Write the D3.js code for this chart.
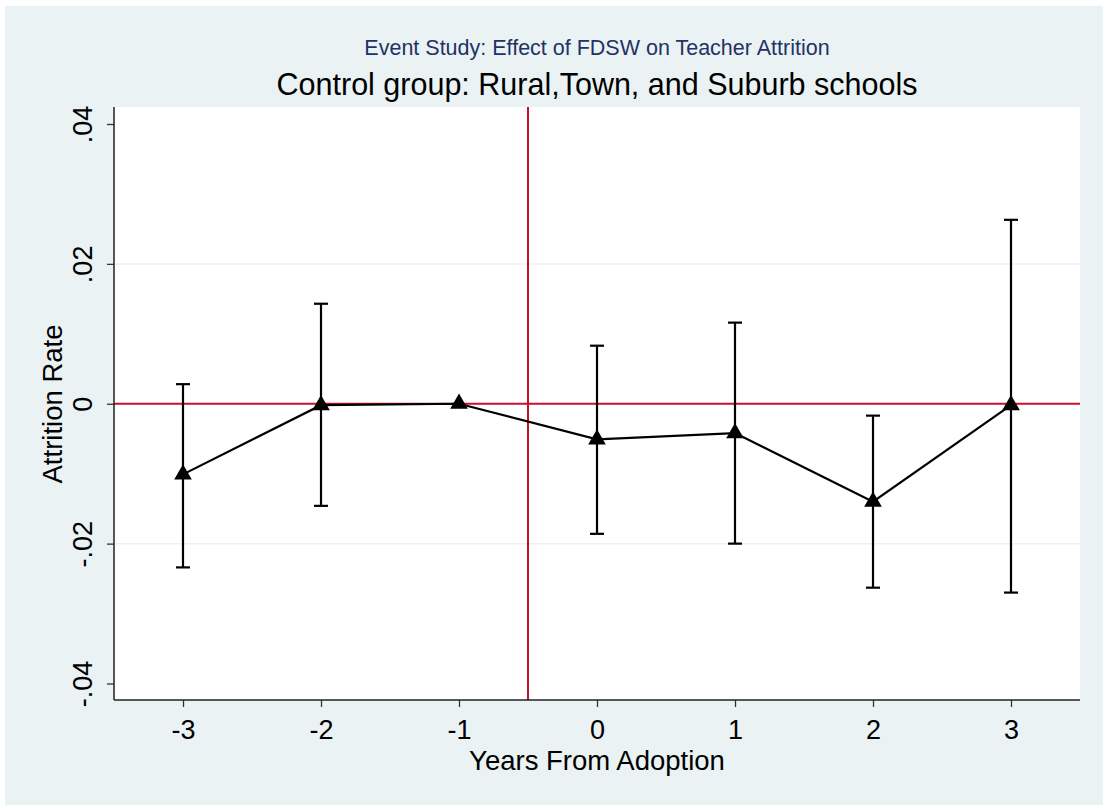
<!DOCTYPE html>
<html lang="en">
<head>
    <meta charset="UTF-8">
    <title>Event Study: Effect of FDSW on Teacher Attrition</title>
    <script src="https://d3js.org/d3.v7.min.js"></script>
    <style>
        body { margin: 0; background: #fff; font-family: "Liberation Sans", Arial, sans-serif; }
        svg { display: block; }
    </style>
</head>
<body>
    <svg width="1104" height="806"></svg>
    <script>
        // Estimates
        const years = [-3, -2, -1, 0, 1, 2, 3];
        const coef = [-0.0101, -0.0002, 0, -0.0051, -0.0042, -0.0140, -0.0002];
        const ciLow = [-0.0234, -0.0146, null, -0.0186, -0.0200, -0.0263, -0.0270];
        const ciHigh = [0.0028, 0.0143, null, 0.0083, 0.0116, -0.0017, 0.0263];
        const yTicks = [-0.04, -0.02, 0, 0.02, 0.04];
        const yLabels = ["-.04", "-.02", "0", ".02", ".04"];

        const data = years.map((x, i) => ({ x, y: coef[i], lo: ciLow[i], hi: ciHigh[i] }));

        const svg = d3.select("svg");
        const W = 1104, H = 806;
        const plot = { left: 114, right: 1080, top: 107, bottom: 700 };
        const font = "'Liberation Sans', Arial, sans-serif";

        // outer panel
        svg.append("rect").attr("x", 5).attr("y", 6).attr("width", W - 6).attr("height", H - 7)
            .attr("fill", "#eaf2f3");
        svg.append("rect").attr("x", plot.left).attr("y", plot.top)
            .attr("width", plot.right - plot.left).attr("height", plot.bottom - plot.top)
            .attr("fill", "#fff");

        const x = d3.scaleLinear().domain([-3.5, 3.5]).range([plot.left, plot.right]);
        const y = d3.scaleLinear().domain([-0.04, 0.04]).range([683.5, 124]);

        // gridlines
        svg.append("g").selectAll("line").data([-0.02, 0.02]).join("line")
            .attr("x1", plot.left).attr("x2", plot.right)
            .attr("y1", d => y(d)).attr("y2", d => y(d))
            .attr("stroke", "#eaf2f3").attr("stroke-width", 1.5);

        // reference lines
        svg.append("line").attr("x1", plot.left).attr("x2", plot.right)
            .attr("y1", y(0)).attr("y2", y(0))
            .attr("stroke", "#c8102e").attr("stroke-width", 2);
        svg.append("line").attr("x1", x(-0.5)).attr("x2", x(-0.5))
            .attr("y1", plot.top).attr("y2", plot.bottom)
            .attr("stroke", "#c8102e").attr("stroke-width", 2);

        // axes
        const yAxis = d3.axisLeft(y).tickValues(yTicks).tickFormat((d, i) => yLabels[i])
            .tickSize(7).tickSizeOuter(0);
        const gy = svg.append("g").attr("transform", `translate(${plot.left},0)`).call(yAxis);
        gy.select(".domain").remove();
        gy.selectAll(".tick line").attr("stroke", "#333").attr("stroke-width", 1.3);
        gy.selectAll(".tick text")
            .attr("x", null).attr("dy", null)
            .attr("text-anchor", "middle")
            .attr("transform", "translate(-22,0) rotate(-90)")
            .style("font-size", "27px").style("font-family", font).attr("fill", "#000");

        const xAxis = d3.axisBottom(x).tickValues(years).tickFormat(d3.format("d"))
            .tickSize(7).tickSizeOuter(0);
        const gx = svg.append("g").attr("transform", `translate(0,${plot.bottom})`).call(xAxis);
        gx.select(".domain").remove();
        gx.selectAll(".tick line").attr("stroke", "#333").attr("stroke-width", 1.3);
        gx.selectAll(".tick text").attr("y", 39).attr("dy", null)
            .style("font-size", "27px").style("font-family", font).attr("fill", "#000")
            .text(d => d < 0 ? "-" + Math.abs(d) : d);

        // axis lines
        svg.append("line").attr("x1", plot.left).attr("x2", plot.left)
            .attr("y1", plot.top).attr("y2", plot.bottom).attr("stroke", "#222").attr("stroke-width", 1.5);
        svg.append("line").attr("x1", plot.left).attr("x2", plot.right)
            .attr("y1", plot.bottom).attr("y2", plot.bottom).attr("stroke", "#222").attr("stroke-width", 1.5);

        // confidence intervals
        const ci = data.filter(d => d.lo !== null);
        const bars = svg.append("g").attr("stroke", "#000").attr("stroke-width", 2.2);
        bars.selectAll("line.v").data(ci).join("line").attr("class", "v")
            .attr("x1", d => x(d.x)).attr("x2", d => x(d.x))
            .attr("y1", d => y(d.lo)).attr("y2", d => y(d.hi));
        bars.selectAll("line.lo").data(ci).join("line").attr("class", "lo")
            .attr("x1", d => x(d.x) - 7).attr("x2", d => x(d.x) + 7)
            .attr("y1", d => y(d.lo)).attr("y2", d => y(d.lo));
        bars.selectAll("line.hi").data(ci).join("line").attr("class", "hi")
            .attr("x1", d => x(d.x) - 7).attr("x2", d => x(d.x) + 7)
            .attr("y1", d => y(d.hi)).attr("y2", d => y(d.hi));

        // connected estimates
        svg.append("path").datum(data)
            .attr("d", d3.line().x(d => x(d.x)).y(d => y(d.y)))
            .attr("fill", "none").attr("stroke", "#000").attr("stroke-width", 2.2);

        const tri = d3.symbol().type(d3.symbolTriangle).size(135);
        svg.append("g").selectAll("path").data(data).join("path")
            .attr("d", tri)
            .attr("transform", d => `translate(${x(d.x)},${y(d.y)})`)
            .attr("fill", "#000");

        // titles
        svg.append("text").attr("x", 597).attr("y", 55).attr("text-anchor", "middle")
            .style("font-size", "21.5px").style("font-family", font).attr("fill", "#1f3366")
            .text("Event Study: Effect of FDSW on Teacher Attrition");
        svg.append("text").attr("x", 597).attr("y", 95).attr("text-anchor", "middle")
            .style("font-size", "30.5px").style("font-family", font).attr("fill", "#000")
            .text("Control group: Rural,Town, and Suburb schools");
        svg.append("text").attr("x", 597).attr("y", 770).attr("text-anchor", "middle")
            .style("font-size", "27.5px").style("font-family", font).attr("fill", "#000")
            .text("Years From Adoption");
        svg.append("text").attr("transform", `translate(62,404) rotate(-90)`)
            .attr("text-anchor", "middle")
            .style("font-size", "27.5px").style("font-family", font).attr("fill", "#000")
            .text("Attrition Rate");
    </script>
</body>
</html>
